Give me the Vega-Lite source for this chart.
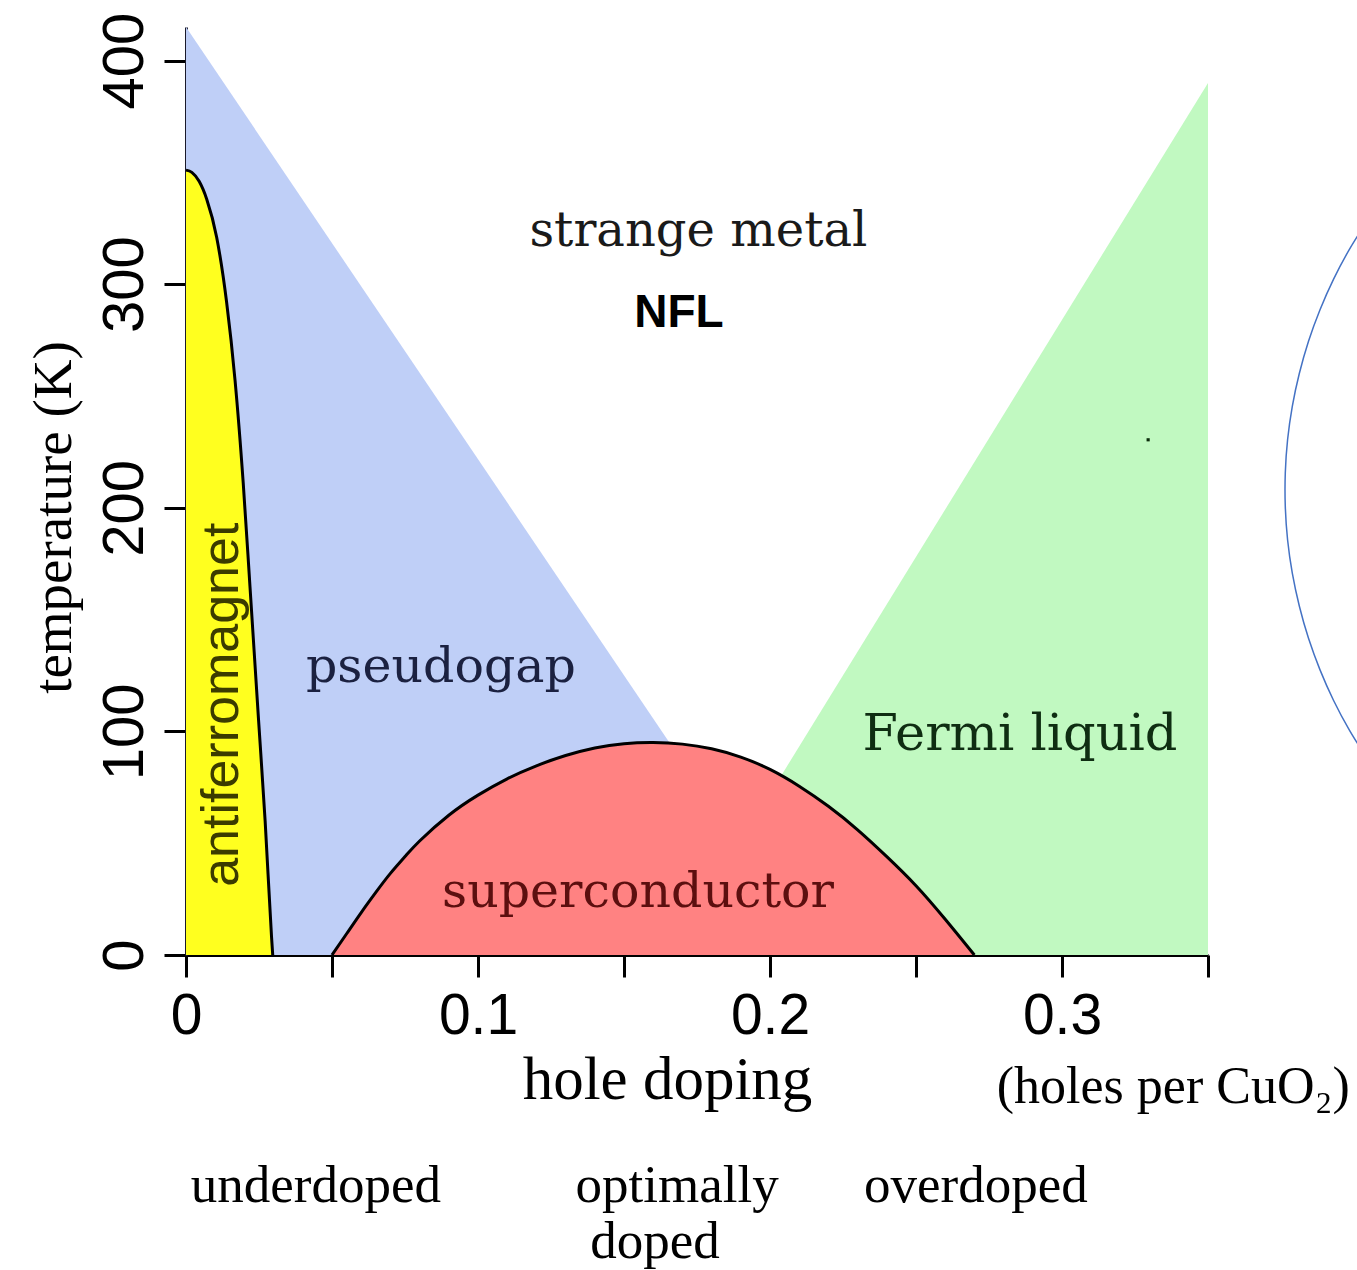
{
  "$schema": "https://vega.github.io/schema/vega-lite/v6.json",
  "width": 1022,
  "height": 928,
  "autosize": {"type": "none"},
  "padding": {"left": 186, "top": 27, "right": 149, "bottom": 315},
  "background": "white",
  "config": {"view": {"stroke": null}, "axis": {"grid": false}},
  "datasets": {
    "pg": [{"x": 0, "y": 415}, {"x": 0.2147, "y": 0}],
    "fl": [{"x": 0.166, "y": 0}, {"x": 0.35, "y": 390}],
    "af": [
      {"x": 0, "y": 351}, {"x": 0.002, "y": 350}, {"x": 0.0045, "y": 346}, {"x": 0.0071, "y": 338},
      {"x": 0.0105, "y": 321}, {"x": 0.0139, "y": 292}, {"x": 0.0168, "y": 257}, {"x": 0.0196, "y": 211},
      {"x": 0.0219, "y": 165}, {"x": 0.0248, "y": 106}, {"x": 0.0271, "y": 60}, {"x": 0.0293, "y": 8},
      {"x": 0.0297, "y": 0}
    ],
    "sc": [
      {"x": 0.05, "y": 0}, {"x": 0.055, "y": 9.5}, {"x": 0.06, "y": 19}, {"x": 0.065, "y": 28},
      {"x": 0.07, "y": 36.5}, {"x": 0.075, "y": 44}, {"x": 0.08, "y": 51}, {"x": 0.09, "y": 62.5},
      {"x": 0.1, "y": 71.5}, {"x": 0.11, "y": 78.8}, {"x": 0.12, "y": 84.6}, {"x": 0.13, "y": 89.2},
      {"x": 0.14, "y": 92.6}, {"x": 0.15, "y": 94.5}, {"x": 0.16, "y": 95}, {"x": 0.17, "y": 94.3},
      {"x": 0.18, "y": 92.2}, {"x": 0.19, "y": 88.5}, {"x": 0.2, "y": 83}, {"x": 0.21, "y": 75.5},
      {"x": 0.22, "y": 66.5}, {"x": 0.23, "y": 56}, {"x": 0.24, "y": 44}, {"x": 0.25, "y": 31},
      {"x": 0.26, "y": 16}, {"x": 0.27, "y": 0}
    ],
    "arc": [
      {"i": 0, "x": 0.40452, "y": 328.28}, {"i": 1, "x": 0.39842, "y": 315.55}, {"i": 2, "x": 0.39301, "y": 302.28},
      {"i": 3, "x": 0.38836, "y": 288.59}, {"i": 4, "x": 0.38442, "y": 274.5}, {"i": 5, "x": 0.38127, "y": 260.04},
      {"i": 6, "x": 0.37887, "y": 245.37}, {"i": 7, "x": 0.37726, "y": 230.51}, {"i": 8, "x": 0.37647, "y": 215.57},
      {"i": 9, "x": 0.37647, "y": 200.54}, {"i": 10, "x": 0.37726, "y": 185.59}, {"i": 11, "x": 0.37887, "y": 170.74},
      {"i": 12, "x": 0.38127, "y": 156.06}, {"i": 13, "x": 0.38442, "y": 141.61}, {"i": 14, "x": 0.38836, "y": 127.52},
      {"i": 15, "x": 0.39301, "y": 113.83}, {"i": 16, "x": 0.39842, "y": 100.56}, {"i": 17, "x": 0.40452, "y": 87.83}
    ],
    "dot": [{"x": 0.3295, "y": 230.4}],
    "serifLabels": [
      {"x": 0.1755, "y": 317.2, "text": "strange metal"}
    ],
    "nfl": [{"x": 0.1688, "y": 281, "text": "NFL"}],
    "pgl": [{"x": 0.0873, "y": 122.1, "text": "pseudogap"}],
    "fll": [{"x": 0.2856, "y": 91.7, "text": "Fermi liquid"}],
    "scl": [{"x": 0.1548, "y": 21.5, "text": "superconductor"}],
    "afl": [{"x": 0.01233, "y": 111.9, "text": "antiferromagnet"}],
    "units": [{"x": 0.3986, "y": -66.2, "text": "(holes per CuO₂)"}],
    "regimes": [
      {"x": 0.0445, "y": -110.5, "text": "underdoped"},
      {"x": 0.1682, "y": -110.5, "text": "optimally"},
      {"x": 0.1606, "y": -135.6, "text": "doped"},
      {"x": 0.2705, "y": -110.5, "text": "overdoped"}
    ]
  },
  "encoding": {
    "x": {
      "field": "x", "type": "quantitative",
      "scale": {"domain": [0, 0.35], "nice": false, "zero": false},
      "axis": {
        "values": [0, 0.05, 0.1, 0.15, 0.2, 0.25, 0.3, 0.35],
        "format": ".2~f",
        "labelExpr": "indexof(['0','0.1','0.2','0.3'], datum.label) >= 0 ? datum.label : ''",
        "labelFont": "Liberation Sans", "labelFontSize": 57, "labelColor": "black",
        "labelPadding": 11, "labelFlush": false, "labelOverlap": false,
        "tickSize": 22, "tickWidth": 3, "tickColor": "black",
        "domainColor": "black", "domainWidth": 3,
        "title": "hole doping", "titleFont": "Liberation Serif", "titleFontSize": 61,
        "titleFontWeight": "normal", "titleColor": "black",
        "titleX": 481, "titleY": 143, "titleBaseline": "alphabetic", "titleAlign": "center"
      }
    },
    "y": {
      "field": "y", "type": "quantitative",
      "scale": {"domain": [0, 415], "nice": false},
      "axis": {
        "values": [0, 100, 200, 300, 400],
        "labelAngle": -90, "labelAlign": "center", "labelBaseline": "alphabetic",
        "labelFont": "Liberation Sans", "labelFontSize": 58, "labelColor": "black",
        "labelPadding": 22, "labelFlush": false, "labelOverlap": false,
        "tickSize": 22, "tickWidth": 3, "tickColor": "black",
        "domainColor": "#1a1a2a", "domainWidth": 3,
        "title": "temperature (K)", "titleFont": "Liberation Serif", "titleFontSize": 55,
        "titleFontWeight": "normal", "titleColor": "black",
        "titleAngle": -90, "titleX": -133, "titleY": 490,
        "titleBaseline": "middle", "titleAlign": "center"
      }
    }
  },
  "layer": [
    {"data": {"name": "pg"}, "mark": {"type": "area", "color": "#BFCFF7"}},
    {"data": {"name": "fl"}, "mark": {"type": "area", "color": "#C1F9C1"}},
    {"data": {"name": "af"}, "mark": {"type": "area", "color": "#FFFF1F", "interpolate": "monotone"}},
    {"data": {"name": "sc"}, "mark": {"type": "area", "color": "#FF8282", "interpolate": "natural"}},
    {"data": {"name": "af"}, "mark": {"type": "line", "color": "black", "strokeWidth": 3, "interpolate": "monotone"}},
    {"data": {"name": "sc"}, "mark": {"type": "line", "color": "black", "strokeWidth": 3, "interpolate": "natural"}},
    {"data": {"name": "arc"}, "mark": {"type": "line", "color": "#4472C4", "strokeWidth": 1.5, "interpolate": "cardinal", "clip": false},
     "encoding": {"order": {"field": "i", "type": "quantitative"}}},
    {"data": {"name": "dot"}, "mark": {"type": "square", "color": "#0a2a0a", "size": 10, "opacity": 1, "filled": true}},
    {"data": {"name": "serifLabels"}, "mark": {"type": "text", "font": "DejaVu Serif", "fontSize": 48, "color": "#1a1a1a", "align": "center", "baseline": "alphabetic"},
     "encoding": {"text": {"field": "text"}}},
    {"data": {"name": "nfl"}, "mark": {"type": "text", "font": "Liberation Sans", "fontSize": 46, "fontWeight": "bold", "color": "black", "align": "center", "baseline": "alphabetic"},
     "encoding": {"text": {"field": "text"}}},
    {"data": {"name": "pgl"}, "mark": {"type": "text", "font": "DejaVu Serif", "fontSize": 49, "color": "#1b2140", "align": "center", "baseline": "alphabetic"},
     "encoding": {"text": {"field": "text"}}},
    {"data": {"name": "fll"}, "mark": {"type": "text", "font": "DejaVu Serif", "fontSize": 51, "color": "#0f2d12", "align": "center", "baseline": "alphabetic"},
     "encoding": {"text": {"field": "text"}}},
    {"data": {"name": "scl"}, "mark": {"type": "text", "font": "DejaVu Serif", "fontSize": 49, "color": "#5c0f0f", "align": "center", "baseline": "alphabetic"},
     "encoding": {"text": {"field": "text"}}},
    {"data": {"name": "afl"}, "mark": {"type": "text", "font": "Liberation Sans", "fontSize": 52, "color": "#3b3b00", "align": "center", "baseline": "middle", "angle": 270},
     "encoding": {"text": {"field": "text"}}},
    {"data": {"name": "units"}, "mark": {"type": "text", "font": "Liberation Serif", "fontSize": 52, "color": "black", "align": "right", "baseline": "alphabetic"},
     "encoding": {"text": {"field": "text"}}},
    {"data": {"name": "regimes"}, "mark": {"type": "text", "font": "Liberation Serif", "fontSize": 53, "color": "black", "align": "center", "baseline": "alphabetic"},
     "encoding": {"text": {"field": "text"}}}
  ]
}
